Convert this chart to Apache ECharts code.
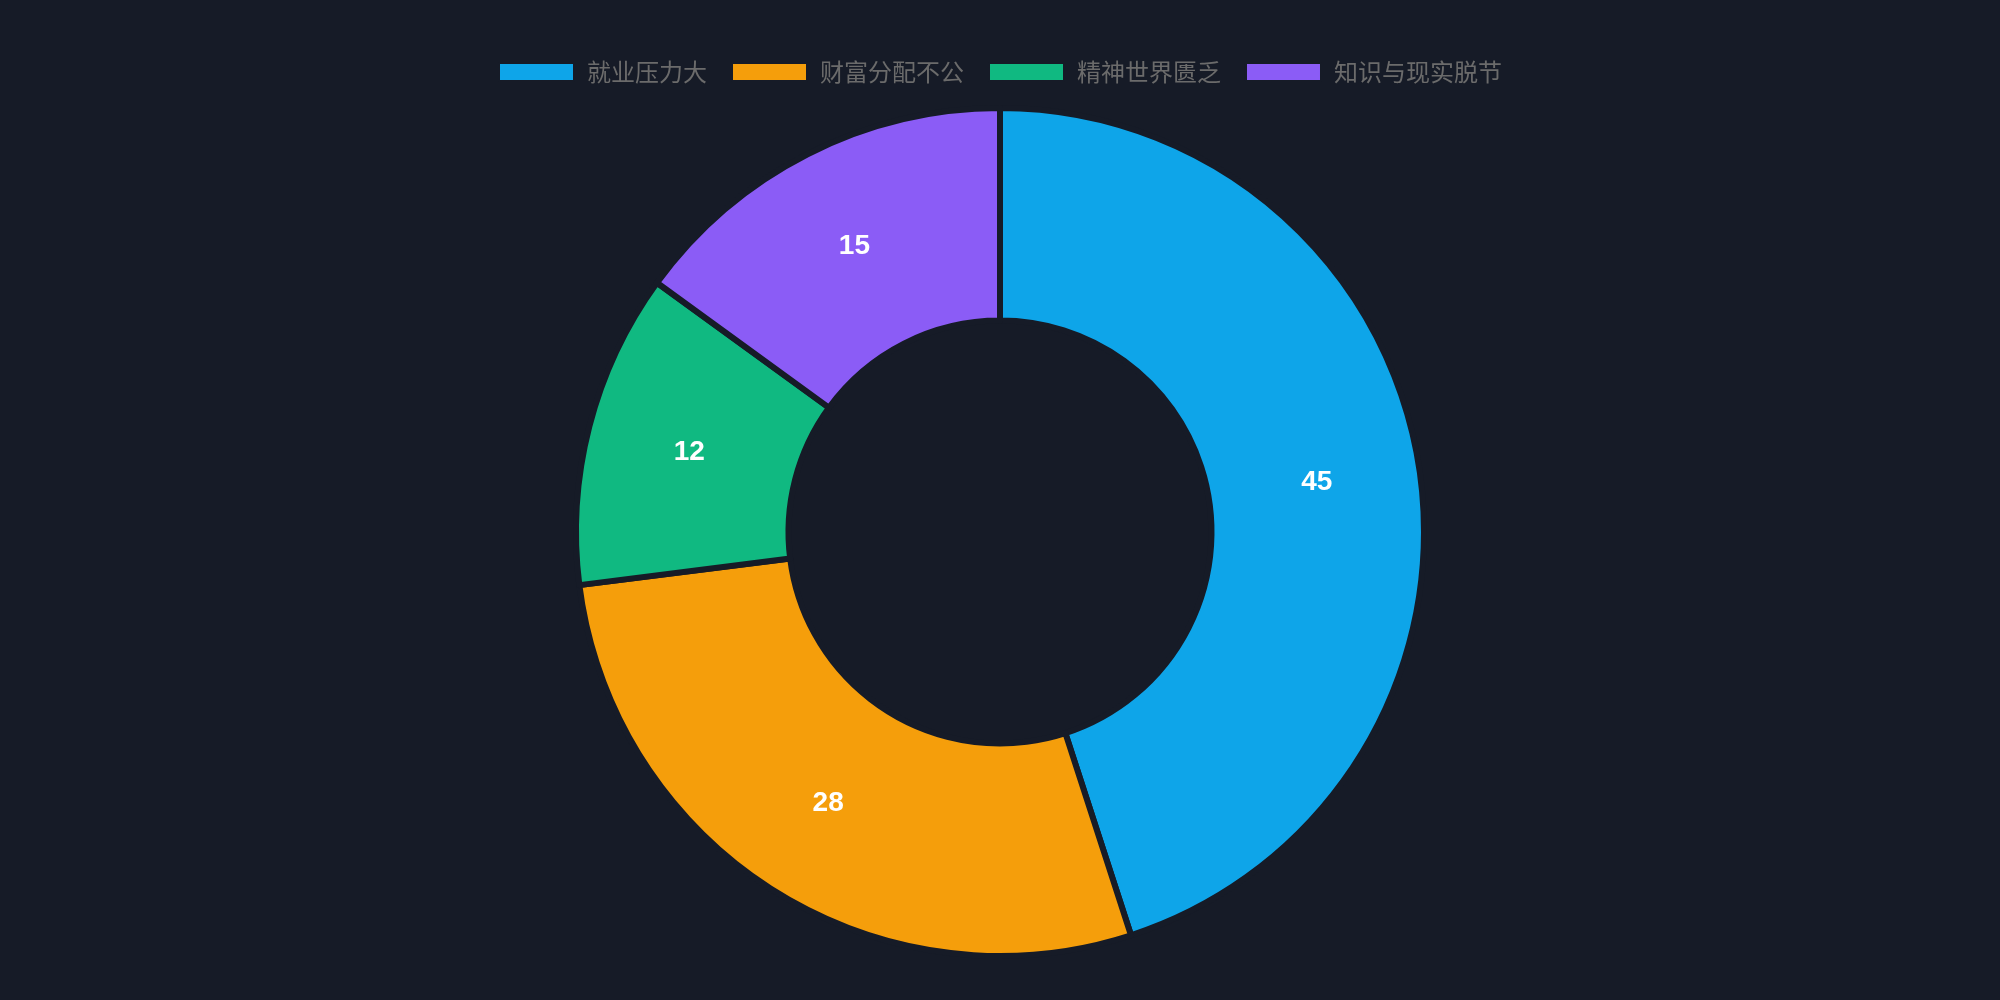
<!DOCTYPE html>
<html>
<head>
<meta charset="utf-8">
<script src="https://cdn.jsdelivr.net/npm/echarts@6/dist/echarts.min.js"></script>
<style>
html,body{margin:0;padding:0;background:#161b27;}
#chart{width:2000px;height:1000px;}
</style>
</head>
<body>
<div id="chart"></div>
<script>
const categories = ['就业压力大', '财富分配不公', '精神世界匮乏', '知识与现实脱节'];
const values = [45, 28, 12, 15];
const colors = ['#0ea5e9', '#f59e0b', '#10b981', '#8b5cf6'];

const chart = echarts.init(document.getElementById('chart'));
chart.setOption({
  backgroundColor: '#161b27',
  color: colors,
  legend: {
    top: 55,
    left: 'center',
    itemWidth: 75,
    itemHeight: 18,
    itemGap: 24,
    icon: 'rect',
    textStyle: { color: '#6b6b6b', fontSize: 24, fontFamily: 'Noto Sans CJK SC', padding: [0, 0, 0, 8] },
    data: categories
  },
  series: [{
    type: 'pie',
    center: ['50%', '53.2%'],
    radius: ['42.3%', '84.8%'],
    startAngle: 90,
    clockwise: true,
    itemStyle: { borderColor: '#161b27', borderWidth: 6 },
    label: {
      show: true,
      position: 'inside',
      formatter: '{c}',
      color: '#ffffff',
      fontSize: 28,
      fontWeight: 'bold',
      fontFamily: 'Liberation Sans, Arial, sans-serif'
    },
    labelLine: { show: false },
    emphasis: { disabled: true },
    animation: false,
    data: categories.map((n, i) => ({ name: n, value: values[i] }))
  }]
});
</script>
</body>
</html>
